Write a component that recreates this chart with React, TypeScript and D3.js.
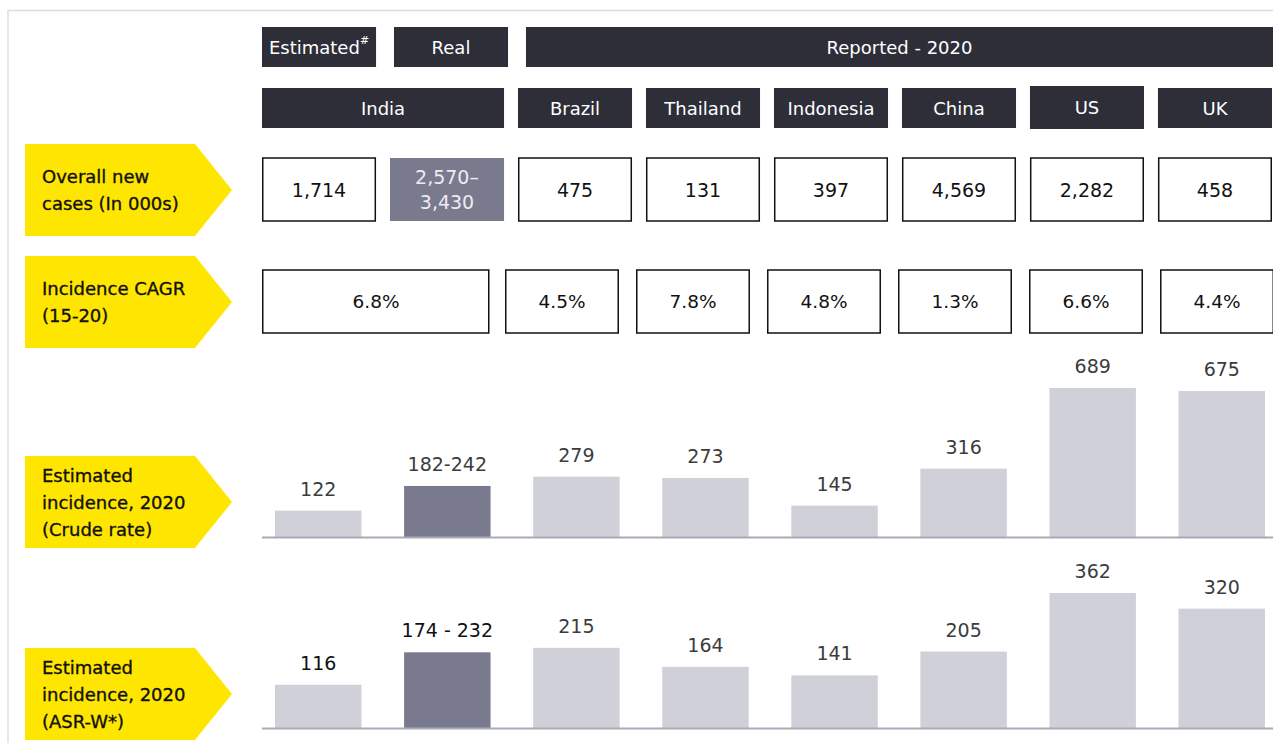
import React from 'react';
import * as d3 from 'd3';

// columns of the table (India is split into estimated / real)
const columns = ['India-est', 'India-real', 'Brazil', 'Thailand', 'Indonesia', 'China', 'US', 'UK'];
const countries = ['Brazil', 'Thailand', 'Indonesia', 'China', 'US', 'UK'];

const newCases = ['1,714', '2,570–|3,430', '475', '131', '397', '4,569', '2,282', '458'];
const cagrIndia = '6.8%';
const cagr = ['4.5%', '7.8%', '4.8%', '1.3%', '6.6%', '4.4%'];

const crudeValues = [122, 236, 279, 273, 145, 316, 689, 675];
const crudeLabels = ['122', '182-242', '279', '273', '145', '316', '689', '675'];
const asrValues = [116, 203, 215, 164, 141, 205, 362, 320];
const asrLabels = ['116', '174 - 232', '215', '164', '141', '205', '362', '320'];

const rowLabels = [
  ['Overall new', 'cases (In 000s)'],
  ['Incidence CAGR', '(15-20)'],
  ['Estimated', 'incidence, 2020', '(Crude rate)'],
  ['Estimated', 'incidence, 2020', '(ASR-W*)'],
];

const DARK = '#2e2e38';
const YELLOW = '#ffe600';
const BAR = '#d0d0d9';
const BAR_DARK = '#7a7a8f';
const FONT = 'DejaVu Sans, Verdana, sans-serif';

const W = 1273, H = 743;

function Arrow({ y0, y1, lines }: { y0: number; y1: number; lines: string[] }) {
  const mid = (y0 + y1) / 2;
  const pts = [[25, y0], [195, y0], [232, mid], [195, y1], [25, y1]];
  const lh = 27;
  const start = mid - ((lines.length - 1) * lh) / 2;
  return (
    <g>
      <polygon points={pts.map(p => p.join(',')).join(' ')} fill={YELLOW} />
      {lines.map((t, i) => (
        <text key={i} x={42} y={start + i * lh} dominantBaseline="central" fontSize={18}
          fontFamily={FONT} fill="#111" stroke="#111" strokeWidth={0.35}>{t}</text>
      ))}
    </g>
  );
}

function Bars({ values, labels, base, top, vmax }: { values: number[]; labels: string[]; base: number; top: number; vmax: number }) {
  const x = d3.scaleBand<string>().domain(columns).range([275, 1265]).paddingInner(0.33);
  const y = d3.scaleLinear().domain([0, vmax]).range([base, top]);
  return (
    <g>
      {columns.map((c, i) => (
        <g key={c}>
          <rect x={x(c)} y={y(values[i])} width={x.bandwidth()} height={base - y(values[i])}
            fill={i === 1 ? BAR_DARK : BAR} />
          <text x={(x(c) as number) + x.bandwidth() / 2} y={y(values[i]) - 15} textAnchor="middle"
            fontSize={19} fontFamily={FONT} fill={labels[i].includes(' ') || labels[i] === '116' ? '#111' : '#3c3c3c'}>
            {labels[i]}
          </text>
        </g>
      ))}
      <line x1={262} x2={W} y1={base + 0.5} y2={base + 0.5} stroke="#a9a9b8" strokeWidth={2} />
    </g>
  );
}

export default function App() {
  const col = d3.scaleBand<string>().domain(columns).range([262, 1272]).paddingInner(0.109);
  const cx = d3.scaleBand<string>().domain(countries).range([505, 1274]).paddingInner(0.13);
  const cw = col.bandwidth();

  return (
    <svg width={W} height={H} style={{ position: 'absolute', left: 0, top: 0, background: '#fff' }}>
      {/* frame */}
      <line x1={8} x2={W} y1={10.5} y2={10.5} stroke="#dcdce3" strokeWidth={1.5} />
      <line x1={8} x2={8} y1={10} y2={H} stroke="#dcdce3" strokeWidth={1.5} />

      {/* header row 1 */}
      <rect x={col('India-est')} y={27} width={cw} height={40} fill={DARK} />
      <text x={(col('India-est') as number) + cw / 2} y={47} textAnchor="middle" dominantBaseline="central"
        fontSize={18} fontFamily={FONT} fill="#fff">Estimated<tspan fontSize={11} dy={-7}>#</tspan></text>
      <rect x={(col('India-real') as number) + 4} y={27} width={cw} height={40} fill={DARK} />
      <text x={(col('India-real') as number) + 4 + cw / 2} y={47} textAnchor="middle" dominantBaseline="central"
        fontSize={18} fontFamily={FONT} fill="#fff">Real</text>
      <rect x={(col('Brazil') as number) + 8} y={27} width={W - (col('Brazil') as number) - 8} height={40} fill={DARK} />
      <text x={((col('Brazil') as number) + 8 + W) / 2} y={47} textAnchor="middle" dominantBaseline="central"
        fontSize={18} fontFamily={FONT} fill="#fff">Reported - 2020</text>

      {/* header row 2 */}
      <rect x={col('India-est')} y={88} width={(col('India-real') as number) + cw - 262} height={40} fill={DARK} />
      <text x={(262 + (col('India-real') as number) + cw) / 2} y={108} textAnchor="middle" dominantBaseline="central"
        fontSize={18} fontFamily={FONT} fill="#fff">India</text>
      {countries.map(c => (
        <g key={c}>
          <rect x={col(c)} y={c === 'US' ? 86 : 88} width={cw} height={c === 'US' ? 43 : 40} fill={DARK} />
          <text x={(col(c) as number) + cw / 2} y={c === 'US' ? 107 : 108} textAnchor="middle" dominantBaseline="central"
            fontSize={18} fontFamily={FONT} fill="#fff">{c}</text>
        </g>
      ))}

      {/* overall new cases */}
      <Arrow y0={144} y1={236} lines={rowLabels[0]} />
      {columns.map((c, i) => {
        const gray = i === 1;
        const parts = newCases[i].split('|');
        const x0 = col(c) as number;
        return (
          <g key={c}>
            <rect x={x0 + (gray ? 0 : 0.75)} y={158} width={cw - (gray ? 0 : 1.5)} height={63}
              fill={gray ? BAR_DARK : '#fff'} stroke={gray ? 'none' : '#111'} strokeWidth={1.5} />
            {parts.map((p, j) => (
              <text key={j} x={x0 + cw / 2} y={189.5 + (j - (parts.length - 1) / 2) * 25} textAnchor="middle"
                dominantBaseline="central" fontSize={19} fontFamily={FONT} fill={gray ? '#ececf2' : '#111'}>{p}</text>
            ))}
          </g>
        );
      })}

      {/* CAGR */}
      <Arrow y0={256} y1={348} lines={rowLabels[1]} />
      <rect x={262.75} y={270} width={226} height={63} fill="#fff" stroke="#111" strokeWidth={1.5} />
      <text x={376} y={301.5} textAnchor="middle" dominantBaseline="central" fontSize={18.5} fontFamily={FONT} fill="#111">{cagrIndia}</text>
      {countries.map((c, i) => (
        <g key={c}>
          <rect x={(cx(c) as number) + 0.75} y={270} width={cx.bandwidth() - 1.5} height={63} fill="#fff" stroke="#111" strokeWidth={1.5} />
          <text x={(cx(c) as number) + cx.bandwidth() / 2} y={301.5} textAnchor="middle" dominantBaseline="central"
            fontSize={18.5} fontFamily={FONT} fill="#111">{cagr[i]}</text>
        </g>
      ))}

      {/* crude rate bars */}
      <Arrow y0={456} y1={548} lines={rowLabels[2]} />
      <Bars values={crudeValues} labels={crudeLabels} base={537} top={388} vmax={689} />

      {/* ASR-W bars */}
      <Arrow y0={648} y1={740} lines={rowLabels[3]} />
      <Bars values={asrValues} labels={asrLabels} base={728} top={593} vmax={362} />
    </svg>
  );
}
